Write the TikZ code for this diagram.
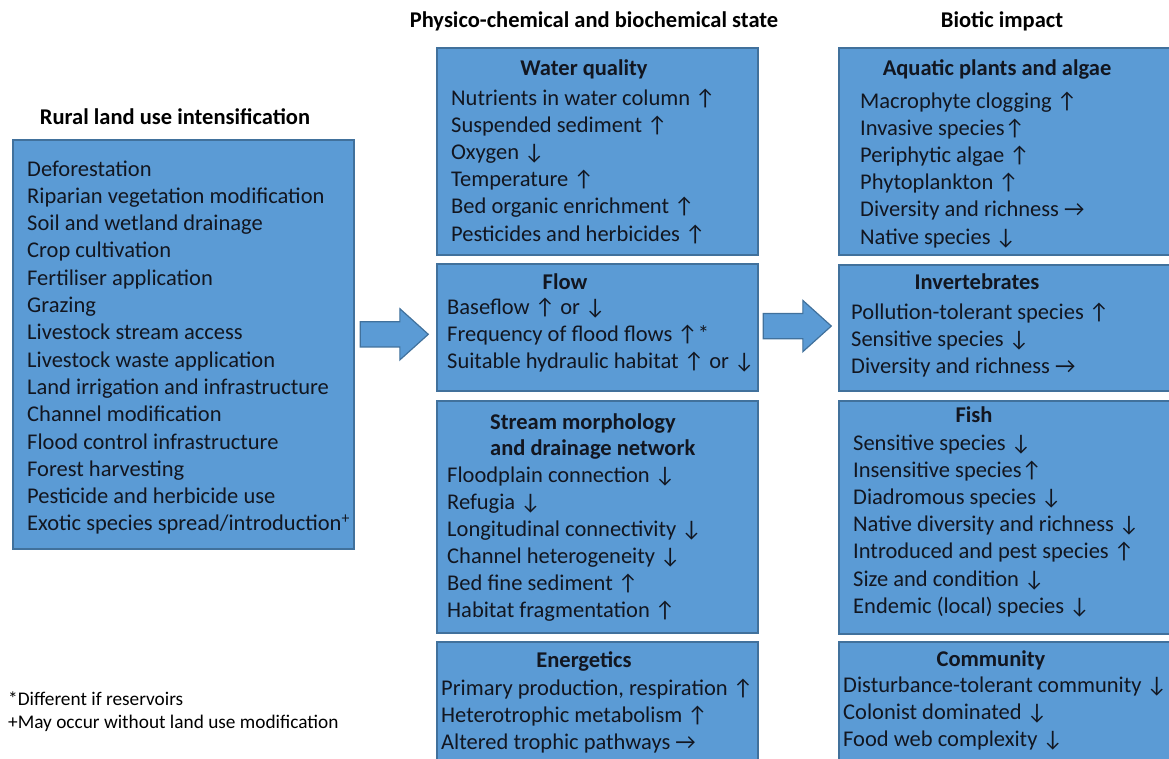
\documentclass[tikz,border=0pt]{standalone}
\usepackage{fontspec}
\setmainfont{Carlito}
\usetikzlibrary{positioning,calc,shapes.arrows}
\definecolor{panelblue}{RGB}{91,155,213}
\definecolor{paneledge}{RGB}{65,113,156}
\definecolor{inkdark}{RGB}{18,22,32}
\tikzset{
  panel/.style={draw=paneledge, line width=1.6pt, fill=panelblue, inner sep=0pt, anchor=north west},
  item/.style={anchor=base west, inner sep=0pt, text=inkdark, font=\fontsize{22.5}{27.3}\selectfont},
  ptitle/.style={anchor=base, inner sep=0pt, text=inkdark, font=\fontsize{22.5}{27}\selectfont\bfseries},
  colhead/.style={anchor=base, inner sep=0pt, text=black, font=\fontsize{22.5}{27}\selectfont\bfseries},
  footnote/.style={anchor=base west, inner sep=0pt, text=black, font=\fontsize{19.3}{23}\selectfont},
  blockarrow/.style={single arrow, draw=paneledge, line width=1.2pt, fill=panelblue,
    inner xsep=0pt, inner ysep=12pt, minimum height=68pt, minimum width=50pt,
    single arrow head extend=13pt, single arrow tip angle=84, single arrow head indent=0pt,
    xshift=-8pt, yshift=1.5pt}
}
\begin{document}
\begin{tikzpicture}[x=1pt, y=-1pt]
  \useasboundingbox (0,0) rectangle (1169,758);
  % column headings
  \node[colhead] (h-left) at (175,124) {Rural land use intensification};
  \node[colhead] (h-mid) at (594,27) {Physico-chemical and biochemical state};
  \node[colhead] (h-right) at (1002,27) {Biotic impact};

  % land use box
  \node[panel, minimum width=341pt, minimum height=409pt] (landuse) at (12,139) {};
  \foreach \entry [count=\i from 0] in {Deforestation, Riparian vegetation modification,
      Soil and wetland drainage, Crop cultivation, Fertiliser application, Grazing,
      Livestock stream access, Livestock waste application, Land irrigation and infrastructure,
      Channel modification, Flood control infrastructure, Forest harvesting,
      Pesticide and herbicide use, Exotic species spread/introduction\textsuperscript{+}}
    \node[item] (lu-\i) at (27,176+27.3*\i) {\entry};

  % physico-chemical column
  \node[panel, minimum width=321pt, minimum height=207pt] (water) at (436,47) {};
  \node[ptitle] (water-t) at (584,75) {Water quality};
  \foreach \entry [count=\i from 0] in {Nutrients in water column ↑, Suspended sediment ↑,
      Oxygen ↓, Temperature ↑, Bed organic enrichment ↑, Pesticides and herbicides ↑}
    \node[item] (wq-\i) at (451,105+27.2*\i) {\entry};

  \node[panel, minimum width=321pt, minimum height=127pt] (flow) at (436,263) {};
  \node[ptitle] (flow-t) at (565,289) {Flow};
  \foreach \entry [count=\i from 0] in {Baseflow ↑ or ↓, Frequency of flood flows ↑*,
      Suitable hydraulic habitat ↑ or ↓}
    \node[item] (fl-\i) at (447,314+27*\i) {\entry};

  \node[panel, minimum width=321pt, minimum height=232pt] (morph) at (436,400) {};
  \node[ptitle, anchor=base west] (morph-t1) at (490,429) {Stream morphology};
  \node[ptitle, anchor=base west] (morph-t2) at (490,455) {and drainage network};
  \foreach \entry [count=\i from 0] in {Floodplain connection ↓, Refugia ↓,
      Longitudinal connectivity ↓, Channel heterogeneity ↓, Bed fine sediment ↑,
      Habitat fragmentation ↑}
    \node[item] (sm-\i) at (447,482+27*\i) {\entry};

  \node[panel, minimum width=321pt, minimum height=130pt] (energy) at (436,641) {};
  \node[ptitle] (energy-t) at (584,667) {Energetics};
  \foreach \entry [count=\i from 0] in {{Primary production, respiration ↑},
      Heterotrophic metabolism ↑, Altered trophic pathways →}
    \node[item] (en-\i) at (441,695+27*\i) {\entry};

  % biotic column
  \node[panel, minimum width=342pt, minimum height=207pt] (plants) at (838,47) {};
  \node[ptitle] (plants-t) at (997,75) {Aquatic plants and algae};
  \foreach \entry [count=\i from 0] in {Macrophyte clogging ↑, Invasive species↑,
      Periphytic algae ↑, Phytoplankton ↑, Diversity and richness →, Native species ↓}
    \node[item] (ap-\i) at (860,108+27.2*\i) {\entry};

  \node[panel, minimum width=342pt, minimum height=126pt] (inverts) at (838,264) {};
  \node[ptitle] (inverts-t) at (977,289) {Invertebrates};
  \foreach \entry [count=\i from 0] in {Pollution-tolerant species ↑, Sensitive species ↓,
      Diversity and richness →}
    \node[item] (iv-\i) at (851,319+27*\i) {\entry};

  \node[panel, minimum width=342pt, minimum height=233pt] (fish) at (838,400) {};
  \node[ptitle] (fish-t) at (974,422) {Fish};
  \foreach \entry [count=\i from 0] in {Sensitive species ↓, Insensitive species↑,
      Diadromous species ↓, Native diversity and richness ↓, Introduced and pest species ↑,
      Size and condition ↓, Endemic (local) species ↓}
    \node[item] (fi-\i) at (853,450+27.2*\i) {\entry};

  \node[panel, minimum width=342pt, minimum height=130pt] (community) at (838,641) {};
  \node[ptitle] (community-t) at (991,666) {Community};
  \foreach \entry [count=\i from 0] in {Disturbance-tolerant community ↓,
      Colonist dominated ↓, Food web complexity ↓}
    \node[item] (co-\i) at (843,692+27*\i) {\entry};

  % block arrows between columns
  \node[blockarrow] (arr1) at ($(landuse.east)!0.5!(flow.west)$) {};
  \node[blockarrow] (arr2) at ($(flow.east)!0.5!(inverts.west)$) {};

  % footnotes
  \node[footnote] (note1) at (8,705) {*Different if reservoirs};
  \node[footnote] (note2) at (8,728) {+May occur without land use modification};
\end{tikzpicture}
\end{document}
